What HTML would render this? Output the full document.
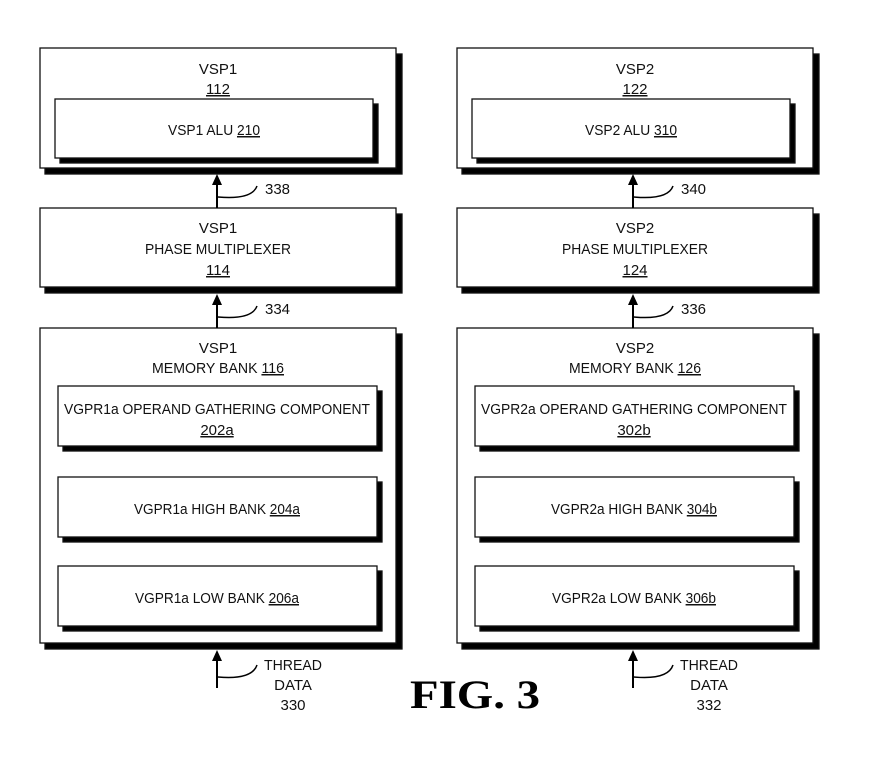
<!DOCTYPE html>
<html><head><meta charset="utf-8"><style>
html,body{margin:0;padding:0;background:#fff;}
svg{display:block;}
text{font-family:"Liberation Sans",sans-serif;font-size:15px;fill:#111;}
.c{text-anchor:middle;}
</style></head><body>
<svg width="873" height="759" viewBox="0 0 873 759" xmlns="http://www.w3.org/2000/svg">
<g stroke="#111" stroke-width="1.3">
<rect x="45" y="54" width="357" height="120" fill="#000"/>
<rect x="40" y="48" width="356" height="120" fill="#fff"/>
<rect x="60" y="104" width="318" height="59" fill="#000"/>
<rect x="55" y="99" width="318" height="59" fill="#fff"/>
<rect x="45" y="214" width="357" height="79" fill="#000"/>
<rect x="40" y="208" width="356" height="79" fill="#fff"/>
<rect x="45" y="334" width="357" height="315" fill="#000"/>
<rect x="40" y="328" width="356" height="315" fill="#fff"/>
<rect x="63" y="391" width="319" height="60" fill="#000"/>
<rect x="58" y="386" width="319" height="60" fill="#fff"/>
<rect x="63" y="482" width="319" height="60" fill="#000"/>
<rect x="58" y="477" width="319" height="60" fill="#fff"/>
<rect x="63" y="571" width="319" height="60" fill="#000"/>
<rect x="58" y="566" width="319" height="60" fill="#fff"/>
<rect x="462" y="54" width="357" height="120" fill="#000"/>
<rect x="457" y="48" width="356" height="120" fill="#fff"/>
<rect x="477" y="104" width="318" height="59" fill="#000"/>
<rect x="472" y="99" width="318" height="59" fill="#fff"/>
<rect x="462" y="214" width="357" height="79" fill="#000"/>
<rect x="457" y="208" width="356" height="79" fill="#fff"/>
<rect x="462" y="334" width="357" height="315" fill="#000"/>
<rect x="457" y="328" width="356" height="315" fill="#fff"/>
<rect x="480" y="391" width="319" height="60" fill="#000"/>
<rect x="475" y="386" width="319" height="60" fill="#fff"/>
<rect x="480" y="482" width="319" height="60" fill="#000"/>
<rect x="475" y="477" width="319" height="60" fill="#fff"/>
<rect x="480" y="571" width="319" height="60" fill="#000"/>
<rect x="475" y="566" width="319" height="60" fill="#fff"/>
</g>
<g stroke="#000" stroke-width="2" fill="none">
<line x1="217" y1="208" x2="217" y2="182"/>
<line x1="217" y1="328" x2="217" y2="302"/>
<line x1="217" y1="688" x2="217" y2="660"/>
<line x1="633" y1="208" x2="633" y2="182"/>
<line x1="633" y1="328" x2="633" y2="302"/>
<line x1="633" y1="688" x2="633" y2="660"/>
</g>
<g fill="#000">
<polygon points="217,174 212,185 222,185"/>
<polygon points="217,294 212,305 222,305"/>
<polygon points="217,650 212,661 222,661"/>
<polygon points="633,174 628,185 638,185"/>
<polygon points="633,294 628,305 638,305"/>
<polygon points="633,650 628,661 638,661"/>
</g>
<g stroke="#000" stroke-width="1.5" fill="none">
<path d="M218,197 Q252,200 257,186"/>
<path d="M218,317 Q252,320 257,306"/>
<path d="M218,677 Q252,680 257,665"/>
<path d="M634,197 Q668,200 673,186"/>
<path d="M634,317 Q668,320 673,306"/>
<path d="M634,677 Q668,680 673,665"/>
</g>
<text class="c" x="218" y="74">VSP1</text>
<text class="c" x="218" y="94" text-decoration="underline">112</text>
<text class="c" x="214" y="135" textLength="92" lengthAdjust="spacingAndGlyphs">VSP1 ALU <tspan text-decoration="underline">210</tspan></text>
<text class="c" x="218" y="233">VSP1</text>
<text class="c" x="218" y="254" textLength="146" lengthAdjust="spacingAndGlyphs">PHASE MULTIPLEXER</text>
<text class="c" x="218" y="275" text-decoration="underline">114</text>
<text class="c" x="218" y="353">VSP1</text>
<text class="c" x="218" y="373" textLength="132" lengthAdjust="spacingAndGlyphs">MEMORY BANK <tspan text-decoration="underline">116</tspan></text>
<text class="c" x="217" y="414" textLength="306" lengthAdjust="spacingAndGlyphs">VGPR1a OPERAND GATHERING COMPONENT</text>
<text class="c" x="217" y="435" text-decoration="underline">202a</text>
<text class="c" x="217" y="514" textLength="166" lengthAdjust="spacingAndGlyphs">VGPR1a HIGH BANK <tspan text-decoration="underline">204a</tspan></text>
<text class="c" x="217" y="603" textLength="164" lengthAdjust="spacingAndGlyphs">VGPR1a LOW BANK <tspan text-decoration="underline">206a</tspan></text>
<text x="265" y="194">338</text>
<text x="265" y="314">334</text>
<text class="c" x="293" y="670" textLength="58" lengthAdjust="spacingAndGlyphs">THREAD</text>
<text class="c" x="293" y="690">DATA</text>
<text class="c" x="293" y="710">330</text>
<text class="c" x="635" y="74">VSP2</text>
<text class="c" x="635" y="94" text-decoration="underline">122</text>
<text class="c" x="631" y="135" textLength="92" lengthAdjust="spacingAndGlyphs">VSP2 ALU <tspan text-decoration="underline">310</tspan></text>
<text class="c" x="635" y="233">VSP2</text>
<text class="c" x="635" y="254" textLength="146" lengthAdjust="spacingAndGlyphs">PHASE MULTIPLEXER</text>
<text class="c" x="635" y="275" text-decoration="underline">124</text>
<text class="c" x="635" y="353">VSP2</text>
<text class="c" x="635" y="373" textLength="132" lengthAdjust="spacingAndGlyphs">MEMORY BANK <tspan text-decoration="underline">126</tspan></text>
<text class="c" x="634" y="414" textLength="306" lengthAdjust="spacingAndGlyphs">VGPR2a OPERAND GATHERING COMPONENT</text>
<text class="c" x="634" y="435" text-decoration="underline">302b</text>
<text class="c" x="634" y="514" textLength="166" lengthAdjust="spacingAndGlyphs">VGPR2a HIGH BANK <tspan text-decoration="underline">304b</tspan></text>
<text class="c" x="634" y="603" textLength="164" lengthAdjust="spacingAndGlyphs">VGPR2a LOW BANK <tspan text-decoration="underline">306b</tspan></text>
<text x="681" y="194">340</text>
<text x="681" y="314">336</text>
<text class="c" x="709" y="670" textLength="58" lengthAdjust="spacingAndGlyphs">THREAD</text>
<text class="c" x="709" y="690">DATA</text>
<text class="c" x="709" y="710">332</text>
<text x="475" y="708" text-anchor="middle" textLength="130" lengthAdjust="spacingAndGlyphs" style="font-family:'Liberation Serif',serif;font-weight:bold;font-size:40px;fill:#000;">FIG. 3</text>
</svg>
</body></html>
